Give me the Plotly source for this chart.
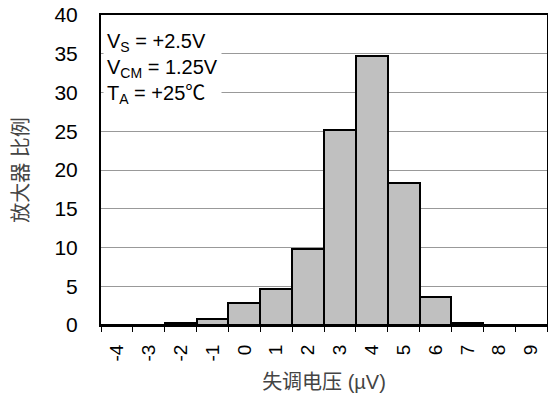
import plotly.graph_objects as go

# offset voltage bins (uV) and share of amplifiers (%)
bins = ["-4", "-3", "-2", "-1", "0", "1", "2", "3", "4", "5", "6", "7", "8", "9"]
share = [0, 0, 0.2, 0.8, 2.8, 4.7, 9.8, 25.2, 34.7, 18.3, 3.6, 0.3, 0, 0]

fig = go.Figure()
fig.add_trace(
    go.Bar(
        x=bins,
        y=share,
        marker=dict(color="#c0c0c0", line=dict(color="black", width=2)),
        width=1,
    )
)

fig.add_annotation(
    xref="paper", yref="paper", x=0.005, y=0.965, xanchor="left", yanchor="top",
    align="left", showarrow=False, bgcolor="white", borderpad=3,
    text="V<sub>S</sub> = +2.5V<br>V<sub>CM</sub> = 1.25V<br>T<sub>A</sub> = +25℃",
    font=dict(size=20, color="black"),
)

fig.update_xaxes(
    type="category", range=[-0.5, 13.5], tickson="boundaries", automargin=False,
    ticks="outside", ticklen=5, tickwidth=1, tickcolor="black",
    tickangle=-90, tickfont=dict(size=19, color="black"), ticklabelstandoff=10,
    showline=True, linecolor="black", linewidth=2, mirror=True,
    showgrid=False,
    title=dict(text="失调电压 (µV)", font=dict(size=20, color="#444"), standoff=14),
)
fig.update_yaxes(
    range=[0, 40], dtick=5, ticks="", ticklabelstandoff=17, automargin=False,
    tickfont=dict(size=21, color="black"),
    showline=True, linecolor="black", linewidth=2, mirror=True,
    showgrid=True, gridcolor="#999", gridwidth=1, zeroline=False,
    title=dict(text="放大器 比例", font=dict(size=20, color="#444"), standoff=20),
)

fig.update_layout(
    width=548, height=410, autosize=False,
    margin=dict(l=101, r=1, t=15, b=85),
    paper_bgcolor="white", plot_bgcolor="white",
    bargap=0, showlegend=False,
    font=dict(family="Liberation Sans, Arial, Noto Sans CJK SC"),
)

# drop the default page margin so the figure sits at the window's corner
fig.write_html(
    "out.html",
    config={"displayModeBar": False},
    post_script="document.body.style.margin='0';document.body.style.overflow='hidden';",
)
